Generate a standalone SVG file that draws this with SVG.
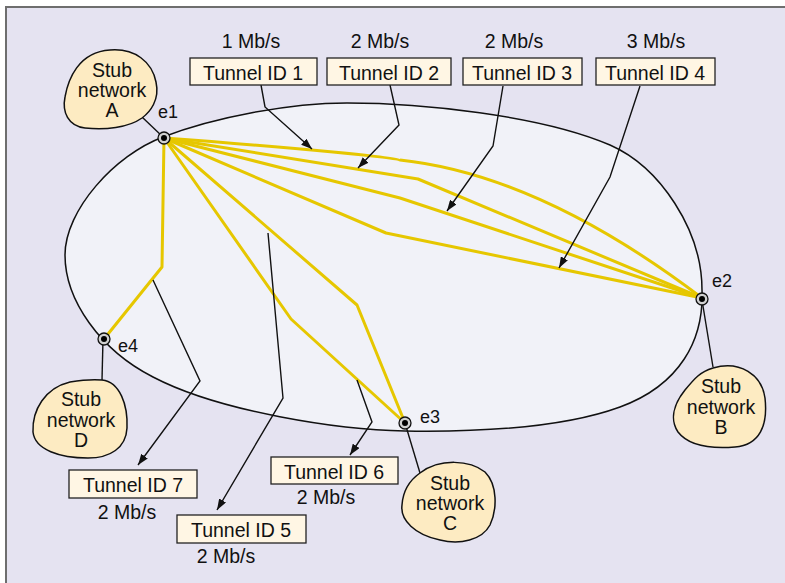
<svg xmlns="http://www.w3.org/2000/svg" width="785" height="583" viewBox="0 0 785 583">
  <style>
    text { font-family: "Liberation Sans", Arial, sans-serif; fill: #111; }
    .lbl { font-size: 19.5px; text-anchor: middle; }
    .edge { font-size: 18px; }
    .box { fill: #fff6e4; stroke: #222; stroke-width: 1.3; }
    .stub { fill: #fdebc2; stroke: #111; stroke-width: 1.5; }
    .tunnel { fill: none; stroke: #e6c700; stroke-width: 3; stroke-linejoin: round; }
    .ptr { fill: none; stroke: #111; stroke-width: 1.4; }
    .link { fill: none; stroke: #111; stroke-width: 1.4; }
    .ring { fill: #d0d0d0; stroke: #111; stroke-width: 1.3; }
    .dot { fill: #000; }
  </style>
  <defs>
    <marker id="arrow" markerUnits="userSpaceOnUse" markerWidth="12" markerHeight="8" refX="11" refY="4" orient="auto">
      <path d="M0,0 L11,4 L0,8 Z" fill="#111"/>
    </marker>
  </defs>

  <!-- frame -->
  <rect x="6" y="7" width="800" height="600" fill="#e5e3f1" stroke="#6e6e6e" stroke-width="2"/>

  <!-- backbone domain -->
  <path id="domain" d="M65,255 C65,210 115,155 163,137 C215,117 290,103 347,103 C420,103 540,115 610,145 C660,167 702,230 702,290 C704,340 680,385 620,407 C560,429 470,432 405,431 C340,430 220,412 153,377 C100,350 65,300 65,255 Z" fill="#f1f2f8" stroke="#111" stroke-width="1.5"/>

  <!-- tunnels (yellow) and pointers -->
  <g id="connectors">
    <path class="tunnel" d="M164,138 L162,267 L104,339"/>
    <path class="tunnel" d="M164,138 L291,319 L405,423"/>
    <path class="tunnel" d="M164,138 L357,305 L405,423"/>
    <path class="tunnel" d="M164,138 L386,233 L702,298"/>
    <path class="tunnel" d="M164,138 L400,198 L702,298"/>
    <path class="tunnel" d="M164,138 L418,179 L702,298"/>
    <path class="tunnel" d="M164,138 C300,148 400,158 400,160 Q540,175 702,298"/>

    <path class="link" d="M142,117 L163,137"/>
    <path class="link" d="M702,300 L713,367"/>
    <path class="link" d="M405,423 L420,473"/>
    <path class="link" d="M103,339 L102,380"/>

    <path class="ptr" marker-end="url(#arrow)" d="M261,85 L265,107 L312,149"/>
    <path class="ptr" marker-end="url(#arrow)" d="M390,85 L399,125 L358,168"/>
    <path class="ptr" marker-end="url(#arrow)" d="M503,86 L493,146 L447,211"/>
    <path class="ptr" marker-end="url(#arrow)" d="M640,86 L610,177 L559,268"/>
    <path class="ptr" marker-end="url(#arrow)" d="M153,280 L200,381 L138,465"/>
    <path class="ptr" marker-end="url(#arrow)" d="M268,233 L283,398 L217,510"/>
    <path class="ptr" marker-end="url(#arrow)" d="M357,380 L372,422 L350,455"/>
  </g>

  <!-- edge routers -->
  <g id="e1">
    <circle class="ring" cx="164" cy="138" r="6"/><circle class="dot" cx="164" cy="138" r="3"/>
    <text class="edge" x="158" y="118">e1</text>
  </g>
  <g id="e2">
    <circle class="ring" cx="702" cy="299" r="6"/><circle class="dot" cx="702" cy="299" r="3"/>
    <text class="edge" x="712" y="287">e2</text>
  </g>
  <g id="e3">
    <circle class="ring" cx="405" cy="423" r="6"/><circle class="dot" cx="405" cy="423" r="3"/>
    <text class="edge" x="420" y="423">e3</text>
  </g>
  <g id="e4">
    <circle class="ring" cx="104" cy="339" r="6"/><circle class="dot" cx="104" cy="339" r="3"/>
    <text class="edge" x="118" y="352">e4</text>
  </g>

  <!-- stub networks -->
  <g id="stubA">
    <path class="stub" d="M110,50 C135,48 152,62 156,82 C160,100 150,112 142,118 C128,128 105,130 85,128 C68,126 62,112 65,97 C68,80 78,52 110,50 Z"/>
    <text class="lbl" x="112" y="77">Stub</text>
    <text class="lbl" x="112" y="97">network</text>
    <text class="lbl" x="112" y="117">A</text>
  </g>
  <g id="stubB">
    <path class="stub" d="M713,368 C740,360 762,375 765,398 C768,425 760,445 735,447 C710,449 688,445 678,432 C670,420 673,405 685,390 C695,378 700,372 713,368 Z"/>
    <text class="lbl" x="721" y="393">Stub</text>
    <text class="lbl" x="721" y="414">network</text>
    <text class="lbl" x="721" y="434">B</text>
  </g>
  <g id="stubC">
    <path class="stub" d="M420,473 C440,458 470,460 485,472 C498,485 497,510 490,525 C482,540 460,545 440,540 C415,535 400,520 402,505 C403,490 410,480 420,473 Z"/>
    <text class="lbl" x="450" y="490">Stub</text>
    <text class="lbl" x="450" y="510">network</text>
    <text class="lbl" x="450" y="530">C</text>
  </g>
  <g id="stubD">
    <path class="stub" d="M102,380 C120,382 128,405 127,428 C126,448 110,458 88,458 C60,458 35,450 33,432 C32,410 45,388 70,382 C82,380 92,379 102,380 Z"/>
    <text class="lbl" x="81" y="406">Stub</text>
    <text class="lbl" x="81" y="427">network</text>
    <text class="lbl" x="81" y="447">D</text>
  </g>

  <!-- tunnel labels -->
  <g id="tunnel1">
    <text class="lbl" x="251" y="48">1 Mb/s</text>
    <rect class="box" x="190" y="58" width="127" height="27"/>
    <text class="lbl" x="253" y="80">Tunnel ID 1</text>
  </g>
  <g id="tunnel2">
    <text class="lbl" x="380" y="48">2 Mb/s</text>
    <rect class="box" x="327" y="58" width="124" height="27"/>
    <text class="lbl" x="389" y="80">Tunnel ID 2</text>
  </g>
  <g id="tunnel3">
    <text class="lbl" x="514" y="48">2 Mb/s</text>
    <rect class="box" x="463" y="58" width="119" height="27"/>
    <text class="lbl" x="522" y="80">Tunnel ID 3</text>
  </g>
  <g id="tunnel4">
    <text class="lbl" x="656" y="48">3 Mb/s</text>
    <rect class="box" x="596" y="58" width="119" height="27"/>
    <text class="lbl" x="655" y="80">Tunnel ID 4</text>
  </g>
  <g id="tunnel5">
    <rect class="box" x="177" y="515" width="129" height="28"/>
    <text class="lbl" x="241" y="537">Tunnel ID 5</text>
    <text class="lbl" x="226" y="563">2 Mb/s</text>
  </g>
  <g id="tunnel6">
    <rect class="box" x="271" y="457" width="127" height="27"/>
    <text class="lbl" x="334" y="479">Tunnel ID 6</text>
    <text class="lbl" x="326" y="504">2 Mb/s</text>
  </g>
  <g id="tunnel7">
    <rect class="box" x="69" y="470" width="128" height="28"/>
    <text class="lbl" x="133" y="492">Tunnel ID 7</text>
    <text class="lbl" x="127" y="519">2 Mb/s</text>
  </g>
</svg>
